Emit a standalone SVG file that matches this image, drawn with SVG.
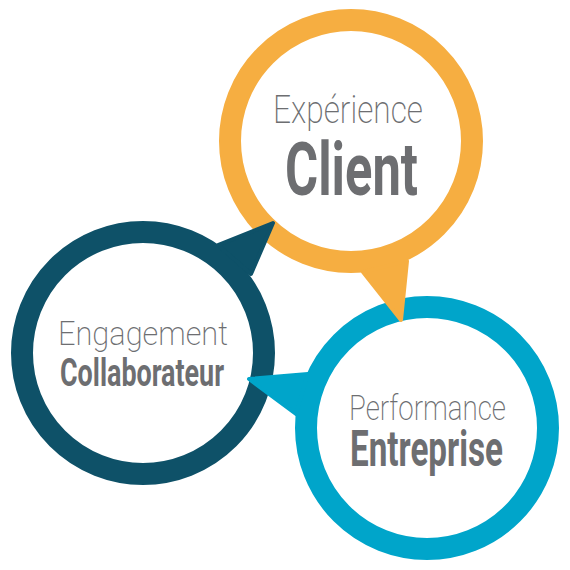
<svg xmlns="http://www.w3.org/2000/svg" width="570" height="570" viewBox="0 0 570 570">
<style>
.ring{fill:#ffffff;stroke-width:22}
.tail{stroke-width:4;stroke-linejoin:round}
.lt{font-family:Roboto,"Liberation Sans",sans-serif;font-weight:200;fill:#6d6e71;text-anchor:middle}
.bd{font-family:Roboto,"Liberation Sans",sans-serif;font-weight:700;fill:#6d6e71;text-anchor:middle}
.o{fill:#f6ae41;stroke:#f6ae41}
.d{fill:#0e5168;stroke:#0e5168}
.b{fill:#00a5ca;stroke:#00a5ca}
</style>
<rect width="570" height="570" fill="#ffffff"/>
<g id="node-client">
<circle class="ring" cx="351" cy="141" r="121" stroke="#f6ae41"/>
</g>
<g id="node-collaborateur">
<circle class="ring" cx="143" cy="353" r="121" stroke="#0e5168"/>
</g>
<g id="node-entreprise">
<circle class="ring" cx="427" cy="428" r="121" stroke="#00a5ca"/>
</g>
<g id="connectors">
<polygon class="tail o" points="363,272 407,261 401,320"/>
<polygon class="tail d" points="218,245 251,274 273,223"/>
<polygon class="tail b" points="308,374 296,414 249,379"/>
</g>
<g id="labels">
<text class="lt" x="348" y="123" font-size="38" textLength="150" lengthAdjust="spacingAndGlyphs">Expérience</text>
<text class="bd" x="351.5" y="195" font-size="75" textLength="133" lengthAdjust="spacingAndGlyphs">Client</text>
<text class="lt" x="143" y="345" font-size="33" textLength="170" lengthAdjust="spacingAndGlyphs">Engagement</text>
<text class="bd" x="142" y="386" font-size="39" textLength="164" lengthAdjust="spacingAndGlyphs">Collaborateur</text>
<text class="lt" x="427.5" y="420" font-size="35" textLength="157" lengthAdjust="spacingAndGlyphs">Performance</text>
<text class="bd" x="426.5" y="466" font-size="50" textLength="153" lengthAdjust="spacingAndGlyphs">Entreprise</text>
</g>
</svg>
